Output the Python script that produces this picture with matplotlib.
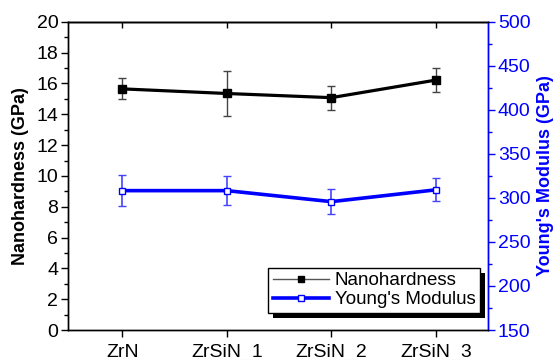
import numpy as np
import matplotlib
matplotlib.use('Agg')
import matplotlib.pyplot as plt
from matplotlib.lines import Line2D
from matplotlib.patches import Rectangle

plt.rcParams['font.family'] = ['Liberation Sans', 'DejaVu Sans']

samples = ['ZrN', 'ZrSiN_1', 'ZrSiN_2', 'ZrSiN_3']
hardness = [15.65, 15.35, 15.08, 16.22]
hardness_err = [0.68, 1.47, 0.78, 0.77]
modulus = [308.3, 308.3, 295.8, 309.2]
modulus_err = [18.0, 16.5, 14.0, 13.2]

BLUE = '#0000ff'

fig = plt.figure(figsize=(5.6, 3.6), dpi=100)
ax = fig.add_axes([0.1215, 0.0833, 0.75, 0.856])
ax2 = ax.twinx()

x = np.arange(len(samples))

# nanohardness (left axis)
ax.errorbar(x, hardness, yerr=hardness_err, color='black', lw=2.3,
            marker='s', ms=5.2, mfc='black', mec='black',
            ecolor='#444444', elinewidth=1.0, capsize=3, capthick=1.0, zorder=3)

# young's modulus (right axis)
ax2.errorbar(x, modulus, yerr=modulus_err, color=BLUE, lw=2.6,
             marker='s', ms=4.5, mfc='white', mec=BLUE, mew=1.0,
             ecolor='#4444ff', elinewidth=1.2, capsize=3, capthick=1.2, zorder=3)

ax.set_xlim(-0.52, 3.5)
ax.set_ylim(0, 20)
ax.set_yticks(np.arange(0, 21, 2))
ax.set_yticks(np.arange(1, 20, 2), minor=True)
ax.set_xticks(x)
ax.set_xticklabels(samples, fontsize=14)
ax.tick_params(axis='y', which='major', direction='out', length=5, width=1,
               labelsize=14, pad=2)
ax.tick_params(axis='y', which='minor', direction='out', length=3, width=1)
ax.tick_params(axis='x', direction='out', length=5, width=1, pad=5)
ax.set_ylabel('Nanohardness (GPa)', fontsize=13, fontweight='bold', labelpad=5)

top = ax.secondary_xaxis('top')
top.set_xticks(x)
top.tick_params(direction='in', length=4, width=1, labeltop=False)

ax2.set_ylim(150, 500)
ax2.set_yticks(np.arange(150, 501, 50))
ax2.set_yticks(np.arange(175, 500, 50), minor=True)
ax2.tick_params(axis='y', which='major', direction='out', length=5, width=1,
                colors=BLUE, labelsize=14, pad=2)
ax2.tick_params(axis='y', which='minor', direction='out', length=3, width=1, colors=BLUE)
ax2.set_ylabel("Young's Modulus (GPa)", fontsize=13, fontweight='bold',
               color=BLUE, labelpad=5)

for a in (ax, ax2):
    for s in a.spines.values():
        s.set_linewidth(1.0)
ax2.spines['right'].set_color(BLUE)
top.spines['top'].set_linewidth(1.0)

handles = [
    Line2D([], [], color='#555555', lw=1.0, marker='s', ms=4, mfc='black', mec='black'),
    Line2D([], [], color=BLUE, lw=2.6, marker='s', ms=4, mfc='white', mec=BLUE),
]
leg = ax.legend(handles, ['Nanohardness', "Young's Modulus"], loc='lower right',
                bbox_to_anchor=(0.981, 0.055), fontsize=13.5, frameon=True,
                fancybox=False, framealpha=1, edgecolor='black', handlelength=3.0,
                borderpad=0.25, labelspacing=0.1, handletextpad=0.3,
                borderaxespad=0)
leg.get_frame().set_linewidth(1.0)
leg.set_zorder(10)

# solid black drop shadow behind the legend box
fig.canvas.draw()
bb = leg.get_window_extent()
shadow = Rectangle((bb.x0 + 5, bb.y0 - 5), bb.width, bb.height, transform=None,
                   facecolor='black', edgecolor='none', zorder=9)
ax.add_artist(shadow)

fig.savefig('out.png', dpi=100)
